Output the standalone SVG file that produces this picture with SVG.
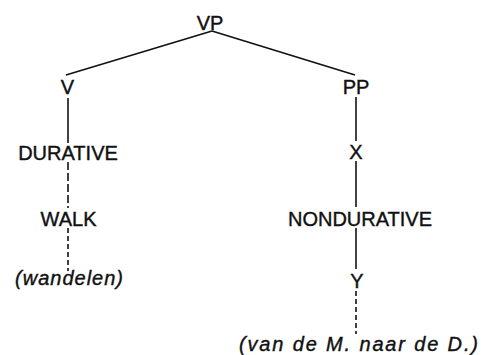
<svg xmlns="http://www.w3.org/2000/svg" width="481" height="355" viewBox="0 0 481 355">
<style>
.lbl{font-family:"Liberation Sans",Arial,sans-serif;font-size:20px;fill:#111;stroke:#111;stroke-width:0.4;text-anchor:middle}
.it{font-family:"Liberation Sans",Arial,sans-serif;font-size:20px;font-style:italic;fill:#111;stroke:#111;stroke-width:0.4}
.ln{stroke:#111;stroke-width:1.6;fill:none}
.dl{stroke:#111;stroke-width:1.6;fill:none;stroke-dasharray:8 3}
.ds{stroke:#111;stroke-width:1.6;fill:none;stroke-dasharray:5 3}
</style>
<rect width="481" height="355" fill="#fff"/>
<g id="connectors">
<line class="ln" x1="212" y1="31" x2="66" y2="75"/>
<line class="ln" x1="212" y1="31" x2="355" y2="75"/>
<line class="ln" x1="68" y1="98" x2="68" y2="143"/>
<line class="dl" x1="68" y1="162" x2="68" y2="208"/>
<line class="ds" x1="68" y1="228" x2="68" y2="271"/>
<line class="ln" x1="356" y1="97" x2="356" y2="141"/>
<line class="ln" x1="356" y1="161" x2="356" y2="207"/>
<line class="ln" x1="356" y1="228" x2="356" y2="269"/>
<line class="ds" x1="356" y1="291" x2="356" y2="334"/>
</g>
<g id="VP"><text class="lbl" x="210" y="30">VP</text></g>
<g id="V"><text class="lbl" x="67.5" y="94">V</text></g>
<g id="PP"><text class="lbl" x="356" y="94">PP</text></g>
<g id="DURATIVE"><text class="lbl" x="68" y="160">DURATIVE</text></g>
<g id="X"><text class="lbl" x="356" y="159">X</text></g>
<g id="WALK"><text class="lbl" x="68.5" y="226">WALK</text></g>
<g id="NONDURATIVE"><text class="lbl" x="360" y="226">NONDURATIVE</text></g>
<g id="wandelen"><text class="it" x="15" y="285" textLength="108" lengthAdjust="spacing">(wandelen)</text></g>
<g id="Y"><text class="lbl" x="357" y="288">Y</text></g>
<g id="vandeM"><text class="it" x="239" y="351" textLength="239" lengthAdjust="spacing">(van de M. naar de D.)</text></g>
</svg>
